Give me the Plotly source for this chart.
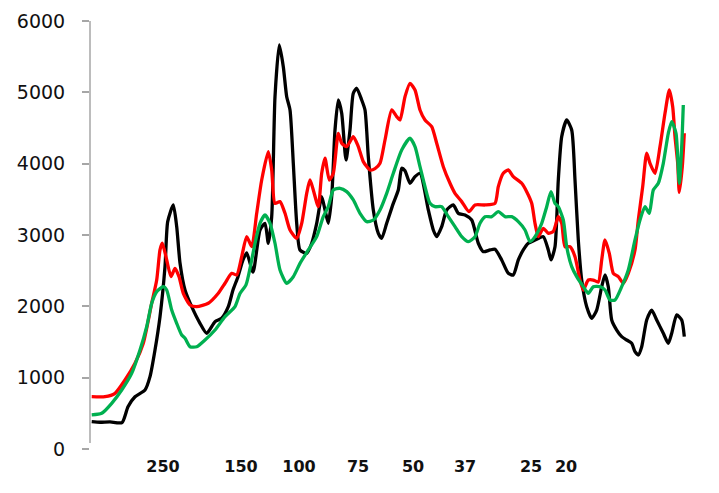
import plotly.graph_objects as go

# migration position (pixels from left end of lane) and intensity
black_x = [1.7,10,20,32,38,45,55,60,65,70,75,77.7,83.3,86.7,90,95,101.7,110,116.7,125,131.7,138.3,143,148,153,156.7,163,170,175,178.3,181.7,185,189.3,193.3,196.7,200,203.3,206.7,210,216.7,221.7,226.7,231.7,235,238.3,241.7,245,248.3,251.7,256,260,263.3,266.7,271.7,275,278.3,283.3,288.3,291.7,296.7,303.3,308.3,311.7,315,320,325,330,338.3,343.3,346.7,351.7,356.7,363.3,368.3,375,381.7,388.3,393.3,400,405,411.7,418.3,423.3,428.3,433.3,438.3,445,453.3,458.3,461,465,468.3,471.7,476.7,481.7,485,488.3,491.7,496.7,501.7,506.7,511.7,515,518.3,521.7,526.7,531.7,536.7,541.7,545,548.3,551.7,556.7,561.7,566.7,573.3,578.3,581.7,586.7,591.7,594.3]
black_y = [383,375,380,370,593,733,827,1014,1388,1855,2556,3187,3421,3117,2607,2229,1995,1762,1622,1785,1833,1995,2229,2416,2650,2750,2480,3070,3164,2884,3257,4939,5664,5360,4939,4753,4005,3164,2790,2743,2884,3164,3537,3351,3164,3537,4472,4893,4706,4052,4472,4987,5057,4893,4753,4099,3351,3024,2954,3164,3444,3631,3935,3900,3725,3818,3865,3351,3070,2977,3117,3351,3421,3304,3281,3210,2884,2766,2790,2800,2650,2463,2440,2650,2790,2884,2930,2977,2790,2650,2836,3771,4379,4612,4472,3771,2930,2369,1995,1832,1948,2275,2440,2275,1809,1668,1575,1528,1482,1364,1318,1434,1809,1948,1809,1622,1482,1622,1879,1809,1575]

red_x = [1.7,15,25,35,45,53.3,61.7,66.7,70,72.3,76.7,81,85,89,93.3,100,106.7,118.3,128.3,135,141.7,146.7,151.7,156.7,161.7,166.7,171.7,178.3,181.7,185,190,195,200,206.7,211.7,216.7,220,223.3,228.3,231.7,235,239.3,243.3,248.3,251.7,256.7,263.3,268.3,273.3,280,285,290,295,301.7,306.7,310,315,320,325,330,335,341.7,346.7,353.3,360,365,371.7,379,385,395,405,408.3,413.3,418.3,423.3,431.7,436.7,441.7,445,448.3,453.3,458.3,463.3,468.3,471.7,475,480,485,490,493.3,498.3,503.3,508.3,511.7,515,519.3,523.3,528.3,533.3,538.3,545,548.3,552.7,556.7,560,565,570,575,579.3,582.7,585,587.7,589.3,592.3,594.3]
red_y = [733,733,781,967,1201,1482,2043,2369,2790,2884,2650,2416,2533,2416,2183,2019,1995,2043,2183,2323,2463,2440,2696,2977,2836,3304,3771,4168,3912,3444,3468,3304,3070,2954,3164,3584,3771,3631,3397,3865,4076,3771,3865,4426,4286,4239,4379,4239,4029,3912,3930,4005,4332,4753,4659,4612,4939,5126,5033,4753,4612,4519,4286,3958,3725,3584,3468,3327,3421,3421,3444,3678,3865,3912,3818,3725,3608,3444,3164,2977,3094,3024,3050,3257,3164,2836,2836,2696,2369,2229,2369,2369,2340,2650,2930,2743,2463,2416,2323,2463,2790,3210,3678,4146,4005,3865,4239,4706,5033,4799,4379,4005,3597,3958,4426]

green_x = [1.7,11.7,21.7,31.7,41.7,50,56.7,61.7,66.7,73.3,76.7,81.7,86.7,91.7,95,100,106.7,115,125,135,145,150,156,161,165,170,175,180,185,190,196.7,203.3,210,218.3,226.7,233.3,238.3,243.3,250,256.7,263.3,270,276.7,283.3,290,296.7,303.3,311.7,320,325,330,335,340,345,351.7,358.3,365,371.7,378.3,385,390,395,401.7,408.3,415,421.7,428.3,435,440,445,451.7,456.7,461,465,468.3,473.3,476.7,481.7,486.7,493.3,498.3,503.3,510,515,520,525,531.7,538.3,545,550,555,559.3,563.3,568.3,573.3,578.3,581.7,586,589.3,591.7,593.3]
green_y = [477,500,640,827,1061,1388,1715,2043,2206,2276,2229,1948,1762,1598,1552,1434,1434,1528,1668,1855,1995,2180,2300,2600,2884,3164,3281,3164,2884,2510,2323,2416,2603,2790,2977,3257,3397,3631,3655,3608,3491,3304,3187,3210,3351,3584,3865,4192,4356,4239,3958,3678,3444,3397,3397,3257,3117,2977,2907,2977,3164,3257,3257,3327,3257,3257,3187,3070,2907,2977,3164,3397,3608,3444,3397,3210,2836,2556,2416,2276,2183,2276,2276,2229,2089,2089,2276,2510,2930,3210,3397,3304,3631,3725,4005,4426,4589,4426,3725,4239,4823]

marker_pos = [73,151,209,268,323,375,441,476]
marker_labels = ["250","150","100","75","50","37","25","20"]

y_ticks = [0,1000,2000,3000,4000,5000,6000]

fig = go.Figure()
for xs, ys, col in [(black_x, black_y, "#000000"),
                    (red_x, red_y, "#FF0000"),
                    (green_x, green_y, "#00B050")]:
    fig.add_trace(go.Scatter(x=xs, y=ys, mode="lines",
                             line=dict(color=col, width=3.3, shape="spline", smoothing=0.6),
                             hoverinfo="skip", showlegend=False))

fig.update_layout(
    width=711, height=485, autosize=False,
    margin=dict(l=82, r=0, t=13, b=44),
    paper_bgcolor="white", plot_bgcolor="white",
    showlegend=False,
    shapes=[dict(type="line", xref="paper", yref="y", x0=0, x1=0, y0=85, y1=6000,
                 line=dict(color="#A6A6A6", width=1.5), layer="below")],
)
fig.update_xaxes(range=[0, 629], showgrid=False, zeroline=False, showline=False,
                 tickmode="array", tickvals=marker_pos, ticktext=marker_labels,
                 ticks="", ticklabelstandoff=6,
                 tickfont=dict(family="DejaVu Sans", size=16, color="#111111", weight="bold"))
fig.update_yaxes(range=[0, 6000], showgrid=False, zeroline=False,
                 showline=False,
                 tickmode="array", tickvals=y_ticks,
                 ticks="outside", ticklen=7, tickcolor="#A6A6A6", tickwidth=1.5,
                 ticklabelstandoff=13,
                 tickfont=dict(family="DejaVu Sans", size=19, color="#111111"))

fig.write_html("out.html")
